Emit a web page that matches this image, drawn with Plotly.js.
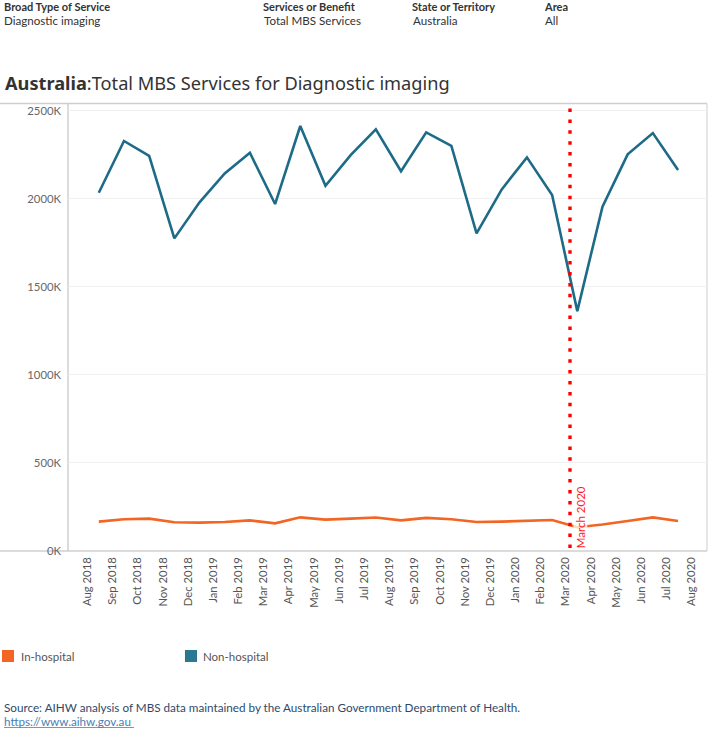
<!DOCTYPE html>
<html>
<head>
<meta charset="utf-8">
<script src="https://cdn.plot.ly/plotly-3.0.1.min.js"></script>
<style>
  html, body { margin: 0; padding: 0; background: #ffffff; }
  #chart { width: 709px; height: 730px; }
</style>
</head>
<body>
<div id="chart"></div>
<script>
// ---------------- DATA ----------------
// Monthly data points (one per month, in thousands of services)
const pointMonths = ["Sep 2018","Oct 2018","Nov 2018","Dec 2018","Jan 2019","Feb 2019","Mar 2019","Apr 2019",
  "May 2019","Jun 2019","Jul 2019","Aug 2019","Sep 2019","Oct 2019","Nov 2019","Dec 2019",
  "Jan 2020","Feb 2020","Mar 2020","Apr 2020","May 2020","Jun 2020","Jul 2020","Aug 2020"];
const nonHospital = [2034, 2328, 2243, 1775, 1980, 2144, 2261, 1970, 2413, 2074, 2248, 2394,
  2156, 2377, 2300, 1803, 2053, 2235, 2021, 1362, 1955, 2252, 2373, 2163];
const inHospital = [167, 180, 184, 163, 161, 165, 174, 157, 191, 178, 184, 190,
  174, 188, 180, 165, 167, 173, 176, 135, 150, 170, 191, 170];
// Axis tick labels
const tickLabels = ["Aug 2018","Sep 2018","Oct 2018","Nov 2018","Dec 2018","Jan 2019","Feb 2019","Mar 2019",
  "Apr 2019","May 2019","Jun 2019","Jul 2019","Aug 2019","Sep 2019","Oct 2019","Nov 2019","Dec 2019",
  "Jan 2020","Feb 2020","Mar 2020","Apr 2020","May 2020","Jun 2020","Jul 2020","Aug 2020"];
const yTicks = [0, 500, 1000, 1500, 2000, 2500];
const seriesNames = ["In-hospital", "Non-hospital"];
const refLabel = "March 2020";

// ---------------- LAYOUT CONSTANTS ----------------
const W = 709, H = 730, ML = 68, MR = 2, MT = 104, MB = 179;
const PW = W - ML - MR, PH = H - MT - MB;
const px = x => (x - ML) / PW;          // pixel x -> paper x
const py = y => (H - MB - y) / PH;      // pixel y -> paper y
const LABEL_OFFSET = -0.457;            // tick labels sit slightly left of points
const REF_X = 18.71;                    // reference line position in point units
const C_ORANGE = "#f26522", C_TEAL = "#1d6b87";
const FONT = "Lato, 'Noto Sans', sans-serif";
const TFONT = "'Noto Sans', 'Open Sans', sans-serif";

const xIdx = pointMonths.map((_, i) => i);

const traces = [
  { x: xIdx, y: nonHospital, name: seriesNames[1], type: "scatter", mode: "lines",
    line: { color: C_TEAL, width: 2.6 }, text: pointMonths, hoverinfo: "text+y" },
  { x: xIdx, y: inHospital, name: seriesNames[0], type: "scatter", mode: "lines",
    line: { color: C_ORANGE, width: 2.6 }, text: pointMonths, hoverinfo: "text+y" }
];

const ann = (x, y, text, opts) => Object.assign({
  xref: "paper", yref: "paper", x: px(x), y: py(y), text: text, showarrow: false,
  xanchor: "left", yanchor: "middle", font: { family: FONT, size: 11, color: "#333" }
}, opts || {});
const hdr = { font: { family: FONT, size: 11.6, color: "#333" } };

const annotations = [
  ann(2, 6, "<b>Broad Type of Service</b>"),
  ann(2, 20, "Diagnostic imaging", hdr),
  ann(261, 6, "<b>Services or Benefit</b>"),
  ann(262, 20, "Total MBS Services", hdr),
  ann(410, 6, "<b>State or Territory</b>"),
  ann(411, 20, "Australia", hdr),
  ann(542, 6, "<b>Area</b>"),
  ann(543, 20, "All", hdr),
  ann(3, 83.5, "<b>Australia</b>:Total MBS Services for Diagnostic imaging",
      { font: { family: TFONT, size: 18.2, color: "#333" } }),
  ann(19, 656, seriesNames[0], { font: { family: FONT, size: 11.5, color: "#555" } }),
  ann(201, 656, seriesNames[1], { font: { family: FONT, size: 11.5, color: "#555" } }),
  ann(2, 707, "Source: AIHW analysis of MBS data maintained by the Australian Government Department of Health.",
      { font: { family: FONT, size: 11.7, color: "#2e4a6b" } }),
  ann(2, 721, "https://www.aihw.gov.au", { font: { family: FONT, size: 11.7, color: "#4a7db3" } }),
  { xref: "x", yref: "y", x: REF_X, y: 192, xshift: 10, text: refLabel, textangle: -90,
    showarrow: false, xanchor: "center", yanchor: "middle", bgcolor: "rgba(255,255,255,0.75)",
    borderpad: 0, font: { family: FONT, size: 11.5, color: "#ff1a1a" } }
];

const line = (x0, y0, x1, y1, color, width) => ({
  type: "line", xref: "paper", yref: "paper", x0: px(x0), y0: py(y0), x1: px(x1), y1: py(y1),
  line: { color: color, width: width || 1 }, layer: "below"
});

const shapes = [
  line(0, 103.5, 707, 103.5, "#cfcfcf", 1.5),
  line(0, 551, 707, 551, "#cfcfcf", 1.5),
  line(68, 103.5, 68, 551, "#c4c4c4", 1.2),
  line(707, 103.5, 707, 551, "#d6d6d6", 1.2),
  // underline for URL
  line(4, 727.5, 134, 727.5, "#4a7db3", 0.8),
  // legend swatches
  { type: "rect", xref: "paper", yref: "paper", x0: px(2), x1: px(14), y0: py(662), y1: py(650),
    fillcolor: C_ORANGE, line: { width: 0 } },
  { type: "rect", xref: "paper", yref: "paper", x0: px(185), x1: px(197), y0: py(662), y1: py(650),
    fillcolor: "#2a7891", line: { width: 0 } },
  // reference line (March 2020)
  { type: "line", xref: "x", yref: "paper", x0: REF_X, x1: REF_X, y0: py(548), y1: py(105),
    line: { color: "#ff0000", width: 3.4, dash: "3.5px,7.4px" }, layer: "above" }
];

const layout = {
  width: W, height: H,
  margin: { l: ML, r: MR, t: MT, b: MB, pad: 0 },
  paper_bgcolor: "#ffffff", plot_bgcolor: "#ffffff",
  showlegend: false,
  font: { family: FONT, size: 11, color: "#555" },
  xaxis: {
    range: [-1.223, 24.15], tickvals: tickLabels.map((_, k) => k + LABEL_OFFSET), ticktext: tickLabels,
    tickangle: -90, showgrid: false, zeroline: false, showline: false, ticks: "",
    ticklabelstandoff: 3,
    tickfont: { family: FONT, size: 11.3, color: "#555" }, fixedrange: true
  },
  yaxis: {
    range: [0, 2538], tickvals: yTicks, ticktext: yTicks.map(v => v + "K"),
    showgrid: true, gridcolor: "#f0f0f0", gridwidth: 1, zeroline: false, showline: false, ticks: "",
    ticklabelstandoff: 6,
    tickfont: { family: FONT, size: 11.3, color: "#666" }, fixedrange: true
  },
  annotations: annotations,
  shapes: shapes
};

Plotly.newPlot("chart", traces, layout, { displayModeBar: false, staticPlot: true });
</script>
</body>
</html>
